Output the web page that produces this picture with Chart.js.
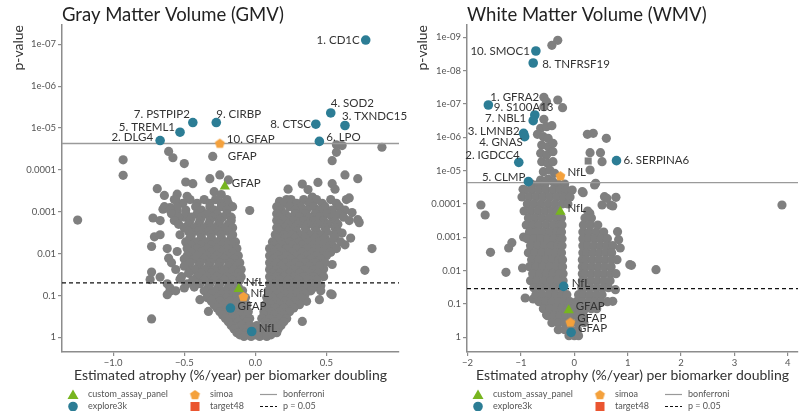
<!DOCTYPE html>
<html>
<head>
<meta charset="utf-8">
<script src="https://cdn.jsdelivr.net/npm/chart.js@4.4.1/dist/chart.umd.min.js"></script>
<style>
  html, body { margin: 0; padding: 0; background: #fff; }
  #wrap { position: relative; width: 804px; height: 411px; overflow: hidden; }
  #gmv { position: absolute; left: 0; top: 0; width: 420px; height: 411px; }
  #wmv { position: absolute; left: 400px; top: 0; width: 404px; height: 411px; }
</style>
</head>
<body>
<div id="wrap">
  <canvas id="gmv" width="420" height="411"></canvas>
  <canvas id="wmv" width="404" height="411"></canvas>
</div>
<script>
// y values are -log10(p)

// ---------- Gray Matter Volume ----------
const gmvXTicks = [-1, -0.5, 0, 0.5];
const gmvXTickLabels = ["−1.0", "−0.5", "0.0", "0.5"];
const gmvYTickLabels = ["1", "0.1", "0.01", "0.001", "0.0001", "1e-05", "1e-06", "1e-07"];

const gmvExplore = [[0.776, 7.10], [0.53, 5.36], [0.63, 5.06], [0.425, 5.09], [0.45, 4.68],
  [-0.44, 5.13], [-0.275, 5.13], [-0.53, 4.90], [-0.67, 4.70], [-0.175, 0.70], [-0.026, 0.14]];
const gmvExploreNames = ["1. CD1C", "4. SOD2", "3. TXNDC15", "8. CTSC", "6. LPO",
  "7. PSTPIP2", "9. CIRBP", "5. TREML1", "2. DLG4", "GFAP", "NfL"];
const gmvSimoa = [[-0.25, 4.64], [-0.084, 0.98]];
const gmvSimoaNames = ["10. GFAP", "NfL"];
const gmvCustom = [[-0.215, 3.60], [-0.117, 1.155]];
const gmvCustomNames = ["GFAP", "NfL"];
const gmvTarget = [[-0.30, 4.32]];
const gmvTargetNames = ["GFAP"];
const gmvBonferroni = 4.63;
const gmvP05 = 1.30;

const gmvGray = [
  [-0.61,4.44],[-0.58,4.29],[-0.93,4.24],[-0.50,4.15],[-0.93,3.87],[-0.49,3.71],[-0.44,3.67],
  [-0.32,3.79],[-0.25,3.88],[-0.19,3.76],[-0.29,3.48],[-0.24,3.41],[-0.69,3.55],[-0.64,3.39],
  [-0.55,3.42],[-0.57,3.29],[-0.48,3.37],[-0.65,3.06],[-0.60,3.10],[-0.55,3.01],[-0.50,2.87],
  [-1.25,2.80],[-0.71,2.40],[-0.04,3.03],[-0.72,2.85],[-0.73,2.17],[-0.61,1.89],[-0.55,2.05],
  [-0.74,1.38],[-0.73,0.44],[-0.60,1.18],[-0.67,1.44],[-0.73,1.56],[-0.46,1.58],[-0.60,1.10],
  [-0.62,1.02],[-0.39,0.90],[-0.33,0.62],[-0.53,1.39],[-0.50,1.18],
  [0.57,4.60],[0.61,4.58],[0.89,4.54],[0.57,4.42],[0.54,4.22],[0.63,3.88],[0.72,3.79],[0.44,3.70],
  [0.33,3.66],[0.37,3.53],[0.40,3.35],[0.23,3.54],[0.54,3.67],[0.56,3.54],[0.17,3.25],[0.22,3.29],
  [0.26,3.13],[0.31,3.05],[0.34,3.29],[0.40,3.33],[0.64,3.29],[0.66,3.33],[0.68,2.98],[0.73,2.74],
  [0.82,2.12],[0.77,1.60],[0.72,2.81],[0.54,1.02],[0.33,0.38],[0.46,1.23],[0.67,2.37],[0.61,2.49],
  [0.63,2.21],[0.54,1.74],[0.48,1.63],[0.53,1.04],[0.45,0.90],[0.36,0.86],
  [-0.56,3.29],[-0.46,3.29],[-0.36,3.29],[-0.28,3.29],[-0.20,3.29],[0.25,3.29],[0.43,3.29],[0.53,3.29],
  [-0.51,3.20],[-0.41,3.20],[-0.32,3.20],[-0.24,3.20],[-0.19,3.20],[0.20,3.20],[0.29,3.20],[0.38,3.20],[0.47,3.20],[0.57,3.20],
  [-0.64,3.12],[-0.55,3.12],[-0.42,3.12],[-0.32,3.12],[-0.24,3.12],[-0.16,3.12],[0.15,3.12],[0.24,3.12],[0.32,3.12],[0.41,3.12],[0.49,3.12],[0.59,3.12],
  [-0.60,3.04],[-0.49,3.04],[-0.38,3.04],[-0.29,3.04],[-0.20,3.04],[0.18,3.04],[0.28,3.04],[0.36,3.04],[0.45,3.04],[0.54,3.04],[0.63,3.04],
  [-0.59,2.95],[-0.49,2.95],[-0.41,2.95],[-0.34,2.95],[-0.27,2.95],[-0.20,2.95],[0.15,2.95],[0.21,2.95],[0.28,2.95],[0.35,2.95],[0.42,2.95],[0.50,2.95],[0.59,2.95],
  [-0.54,2.87],[-0.45,2.87],[-0.38,2.87],[-0.30,2.87],[-0.23,2.87],[-0.17,2.87],[0.17,2.87],[0.24,2.87],[0.31,2.87],[0.38,2.87],[0.45,2.87],[0.54,2.87],[0.62,2.87],
  [-0.67,2.79],[-0.57,2.79],[-0.46,2.79],[-0.39,2.79],[-0.32,2.79],[-0.25,2.79],[-0.17,2.79],[0.15,2.79],[0.20,2.79],[0.27,2.79],[0.34,2.79],[0.41,2.79],[0.48,2.79],[0.56,2.79],[0.66,2.79],
  [-0.54,2.70],[-0.47,2.70],[-0.40,2.70],[-0.33,2.70],[-0.26,2.70],[-0.19,2.70],[0.17,2.70],[0.23,2.70],[0.30,2.70],[0.37,2.70],[0.44,2.70],[0.51,2.70],[0.58,2.70],
  [-0.50,2.62],[-0.43,2.62],[-0.36,2.62],[-0.29,2.62],[-0.22,2.62],[-0.16,2.62],[0.15,2.62],[0.21,2.62],[0.28,2.62],[0.35,2.62],[0.42,2.62],[0.49,2.62],[0.56,2.62],
  [-0.47,2.53],[-0.40,2.53],[-0.33,2.53],[-0.26,2.53],[-0.19,2.53],[0.17,2.53],[0.23,2.53],[0.29,2.53],[0.36,2.53],[0.43,2.53],[0.50,2.53],[0.58,2.53],
  [-0.67,2.45],[-0.53,2.45],[-0.45,2.45],[-0.38,2.45],[-0.31,2.45],[-0.24,2.45],[-0.16,2.45],[0.14,2.45],[0.20,2.45],[0.26,2.45],[0.32,2.45],[0.39,2.45],[0.46,2.45],[0.55,2.45],
  [-0.46,2.37],[-0.38,2.37],[-0.31,2.37],[-0.24,2.37],[-0.17,2.37],[0.15,2.37],[0.21,2.37],[0.28,2.37],[0.35,2.37],[0.42,2.37],[0.49,2.37],[0.56,2.37],
  [-0.49,2.28],[-0.42,2.28],[-0.35,2.28],[-0.28,2.28],[-0.21,2.28],[-0.14,2.28],[0.12,2.28],[0.18,2.28],[0.24,2.28],[0.31,2.28],[0.38,2.28],[0.45,2.28],[0.52,2.28],[0.60,2.28],
  [-0.45,2.20],[-0.38,2.20],[-0.31,2.20],[-0.24,2.20],[-0.17,2.20],[0.13,2.20],[0.19,2.20],[0.26,2.20],[0.33,2.20],[0.40,2.20],[0.47,2.20],[0.54,2.20],
  [-0.62,2.12],[-0.48,2.12],[-0.41,2.12],[-0.34,2.12],[-0.27,2.12],[-0.20,2.12],[-0.13,2.12],[0.10,2.12],[0.16,2.12],[0.22,2.12],[0.29,2.12],[0.36,2.12],[0.43,2.12],[0.50,2.12],[0.57,2.12],
  [-0.45,2.03],[-0.38,2.03],[-0.31,2.03],[-0.24,2.03],[-0.16,2.03],[0.13,2.03],[0.19,2.03],[0.26,2.03],[0.33,2.03],[0.40,2.03],[0.47,2.03],[0.53,2.03],
  [-0.48,1.95],[-0.41,1.95],[-0.34,1.95],[-0.27,1.95],[-0.20,1.95],[-0.12,1.95],[0.10,1.95],[0.16,1.95],[0.22,1.95],[0.29,1.95],[0.36,1.95],[0.43,1.95],[0.50,1.95],
  [-0.50,1.87],[-0.43,1.87],[-0.36,1.87],[-0.29,1.87],[-0.22,1.87],[-0.15,1.87],[0.13,1.87],[0.19,1.87],[0.25,1.87],[0.32,1.87],[0.39,1.87],[0.46,1.87],
  [-0.59,1.78],[-0.46,1.78],[-0.39,1.78],[-0.32,1.78],[-0.25,1.78],[-0.18,1.78],[-0.11,1.78],[0.10,1.78],[0.15,1.78],[0.21,1.78],[0.28,1.78],[0.35,1.78],[0.42,1.78],[0.49,1.78],
  [-0.50,1.70],[-0.40,1.70],[-0.33,1.70],[-0.26,1.70],[-0.19,1.70],[-0.13,1.70],[0.13,1.70],[0.18,1.70],[0.24,1.70],[0.31,1.70],[0.38,1.70],[0.45,1.70],
  [-0.56,1.62],[-0.43,1.62],[-0.36,1.62],[-0.29,1.62],[-0.22,1.62],[-0.15,1.62],[-0.10,1.62],[0.10,1.62],[0.15,1.62],[0.20,1.62],[0.27,1.62],[0.34,1.62],[0.41,1.62],
  [-0.47,1.53],[-0.38,1.53],[-0.31,1.53],[-0.24,1.53],[-0.17,1.53],[-0.12,1.53],[0.12,1.53],[0.17,1.53],[0.24,1.53],[0.31,1.53],[0.38,1.53],[0.44,1.53],
  [-0.52,1.45],[-0.41,1.45],[-0.34,1.45],[-0.27,1.45],[-0.20,1.45],[-0.14,1.45],[-0.10,1.45],[0.10,1.45],[0.15,1.45],[0.20,1.45],[0.27,1.45],[0.34,1.45],[0.41,1.45],[0.48,1.45],
  [-0.44,1.37],[-0.36,1.37],[-0.29,1.37],[-0.22,1.37],[-0.16,1.37],[-0.11,1.37],[0.12,1.37],[0.17,1.37],[0.23,1.37],[0.30,1.37],[0.37,1.37],[0.43,1.37],
  [-0.62,1.28],[-0.48,1.28],[-0.39,1.28],[-0.32,1.28],[-0.25,1.28],[-0.18,1.28],[-0.13,1.28],[0.10,1.28],[0.14,1.28],[0.19,1.28],[0.26,1.28],[0.33,1.28],[0.40,1.28],
  [-0.43,1.20],[-0.33,1.20],[-0.26,1.20],[-0.19,1.20],[-0.12,1.20],[0.11,1.20],[0.16,1.20],[0.22,1.20],[0.29,1.20],[0.36,1.20],[0.42,1.20],
  [-0.56,1.11],[-0.36,1.11],[-0.29,1.11],[-0.22,1.11],[-0.15,1.11],[-0.09,1.11],[0.09,1.11],[0.13,1.11],[0.18,1.11],[0.25,1.11],[0.32,1.11],[0.39,1.11],[0.46,1.11],
  [-0.31,1.03],[-0.24,1.03],[-0.17,1.03],[-0.11,1.03],[0.10,1.03],[0.15,1.03],[0.21,1.03],[0.28,1.03],[0.35,1.03],
  [-0.34,0.95],[-0.27,0.95],[-0.20,0.95],[-0.13,0.95],[-0.07,0.95],[0.08,0.95],[0.12,0.95],[0.18,0.95],[0.25,0.95],[0.32,0.95],
  [-0.31,0.87],[-0.25,0.87],[-0.18,0.87],[-0.12,0.87],[-0.08,0.87],[0.09,0.87],[0.14,0.87],[0.21,0.87],[0.28,0.87],
  [-0.29,0.78],[-0.22,0.78],[-0.15,0.78],[-0.10,0.78],[-0.06,0.78],[0.07,0.78],[0.11,0.78],[0.17,0.78],[0.24,0.78],[0.31,0.78],
  [-0.27,0.70],[-0.20,0.70],[-0.13,0.70],[-0.08,0.70],[0.08,0.70],[0.14,0.70],[0.20,0.70],[0.27,0.70],
  [-0.25,0.61],[-0.18,0.61],[-0.11,0.61],[-0.05,0.61],[0.06,0.61],[0.11,0.61],[0.17,0.61],[0.24,0.61],
  [-0.23,0.53],[-0.16,0.53],[-0.10,0.53],[-0.06,0.53],[0.06,0.53],[0.13,0.53],[0.20,0.53],
  [-0.21,0.45],[-0.14,0.45],[-0.08,0.45],[-0.04,0.45],[0.045,0.45],[0.10,0.45],[0.17,0.45],[0.22,0.45],
  [-0.19,0.37],[-0.12,0.37],[-0.06,0.37],[0.07,0.37],[0.13,0.37],[0.20,0.37],
  [-0.17,0.28],[-0.10,0.28],[-0.04,0.28],[0.01,0.28],[0.07,0.28],[0.13,0.28],[0.18,0.28],
  [-0.15,0.20],[-0.08,0.20],[-0.02,0.20],[0.04,0.20],[0.10,0.20],[0.16,0.20],
  [-0.13,0.11],[-0.07,0.11],[-0.01,0.11],[0.04,0.11],[0.10,0.11],[0.15,0.11],
  [-0.11,0.06],[-0.05,0.06],[0.00,0.06],[0.06,0.06],[0.11,0.06],
  [-0.08,0.02],[-0.03,0.02],[0.03,0.02],[0.08,0.02]
];

// ---------- White Matter Volume ----------
const wmvXTicks = [-2, -1, 0, 1, 2, 3, 4];
const wmvXTickLabels = ["−2", "−1", "0", "1", "2", "3", "4"];
const wmvYTickLabels = ["1", "0.1", "0.01", "0.001", "0.0001", "1e-05", "1e-06", "1e-07", "1e-08", "1e-09"];

const wmvExplore = [[-0.72, 8.59], [-0.77, 8.23], [-1.61, 6.97], [-0.74, 6.67], [-0.77, 6.50],
  [-0.95, 6.12], [-0.93, 6.02], [-1.04, 5.25], [-0.86, 4.67], [0.79, 5.30], [-0.20, 1.53], [-0.06, 0.15]];
const wmvExploreNames = ["10. SMOC1", "8. TNFRSF19", "1. GFRA2", "9. S100A13", "7. NBL1",
  "3. LMNB2", "4. GNAS", "2. IGDCC4", "5. CLMP", "6. SERPINA6", "NfL", "GFAP"];
const wmvSimoa = [[-0.26, 4.85], [-0.074, 0.46]];
const wmvSimoaNames = ["NfL", "GFAP"];
const wmvCustom = [[-0.26, 3.77], [-0.105, 0.81]];
const wmvCustomNames = ["NfL", "GFAP"];
const wmvTarget = [[0.26, 5.29]];
const wmvTargetNames = [""];
const wmvBonferroni = 4.64;
const wmvP05 = 1.46;

const wmvGray = [
  [-0.31,8.91],[-0.42,8.76],[-0.57,7.20],[-0.52,7.07],[-0.31,7.12],[-0.22,6.89],[-0.57,6.92],
  [-0.57,6.54],[-0.63,6.27],[-0.52,6.32],[-0.42,6.35],[-0.69,6.09],[-0.58,6.02],[-0.49,5.97],
  [-0.61,5.77],[-0.49,5.72],[-0.40,5.82],[-0.63,5.52],[-0.52,5.47],[-0.40,5.57],[-0.61,5.27],
  [-0.50,5.22],[-0.40,5.27],[-0.58,4.97],[-0.46,5.02],[-0.37,4.92],[-0.63,4.72],[-0.49,4.75],[-0.40,4.67],
  [0.245,6.09],[0.355,6.12],[0.60,5.97],[0.295,5.54],[0.49,5.54],[0.52,5.27],[0.295,5.02],[0.40,4.62],
  [0.166,4.34],[0.38,4.57],[0.565,4.22],[0.78,4.20],[-0.96,4.44],
  [-1.75,3.97],[-1.67,3.67],[-1.57,2.55],[-1.28,1.95],[-1.23,2.68],[-1.17,2.84],[-0.95,3.01],
  [-0.89,2.98],[-0.97,2.08],[-0.92,1.18],[-0.77,1.15],[-0.52,0.68],
  [0.52,3.97],[0.68,3.97],[0.61,4.17],[0.15,4.37],[0.81,3.17],[0.83,2.93],[0.86,2.68],[1.04,2.18],
  [0.77,1.43],[3.89,3.97],[1.53,2.03],[1.07,2.16],[0.72,1.08],[0.72,3.94],[0.29,3.72],
  [-0.80,4.60],[-0.67,4.60],[-0.55,4.60],[-0.30,4.60],[-0.18,4.60],
  [-0.92,4.42],[-0.79,4.42],[-0.66,4.42],[-0.53,4.42],[-0.40,4.42],[-0.27,4.42],[-0.15,4.42],[-0.04,4.42],
  [-0.98,4.21],[-0.85,4.21],[-0.72,4.21],[-0.59,4.21],[-0.46,4.21],[-0.33,4.21],[-0.20,4.21],[-0.08,4.21],
  [-0.88,4.00],[-0.75,4.00],[-0.62,4.00],[-0.49,4.00],[-0.36,4.00],[-0.23,4.00],[-0.12,4.00],
  [-0.94,3.79],[-0.81,3.79],[-0.68,3.79],[-0.55,3.79],[-0.42,3.79],[-0.32,3.79],
  [-0.86,3.58],[-0.73,3.58],[-0.60,3.58],[-0.47,3.58],[-0.34,3.58],[-0.24,3.58],
  [-0.90,3.37],[-0.78,3.37],[-0.66,3.37],[-0.53,3.37],[-0.40,3.37],[-0.28,3.37],[-0.23,3.37],
  [-0.84,3.16],[-0.71,3.16],[-0.58,3.16],[-0.45,3.16],[-0.33,3.16],[-0.24,3.16],
  [-0.88,2.96],[-0.76,2.96],[-0.63,2.96],[-0.50,2.96],[-0.38,2.96],[-0.26,2.96],[-0.23,2.96],
  [-0.82,2.75],[-0.69,2.75],[-0.56,2.75],[-0.43,2.75],[-0.31,2.75],[-0.23,2.75],
  [-0.86,2.54],[-0.74,2.54],[-0.61,2.54],[-0.48,2.54],[-0.36,2.54],[-0.24,2.54],
  [-0.80,2.33],[-0.67,2.33],[-0.54,2.33],[-0.41,2.33],[-0.29,2.33],[-0.22,2.33],
  [-0.84,2.12],[-0.72,2.12],[-0.59,2.12],[-0.46,2.12],[-0.34,2.12],[-0.22,2.12],
  [-0.78,1.91],[-0.65,1.91],[-0.52,1.91],[-0.40,1.91],[-0.28,1.91],[-0.21,1.91],
  [-0.82,1.70],[-0.70,1.70],[-0.57,1.70],[-0.44,1.70],[-0.32,1.70],[-0.21,1.70],
  [-0.76,1.49],[-0.63,1.49],[-0.50,1.49],[-0.38,1.49],[-0.26,1.49],
  [-0.72,1.28],[-0.60,1.28],[-0.47,1.28],[-0.35,1.28],[-0.23,1.28],[-0.14,1.28],
  [-0.66,1.07],[-0.54,1.07],[-0.42,1.07],[-0.30,1.07],[-0.19,1.07],[-0.08,1.07],
  [-0.58,0.86],[-0.46,0.86],[-0.34,0.86],[-0.23,0.86],[-0.12,0.86],[-0.02,0.86],
  [-0.50,0.65],[-0.38,0.65],[-0.27,0.65],[-0.16,0.65],[-0.05,0.65],[0.06,0.65],[0.17,0.65],
  [-0.42,0.44],[-0.30,0.44],[-0.18,0.44],[-0.06,0.44],[0.06,0.44],[0.18,0.44],
  [-0.30,0.23],[-0.18,0.23],[-0.06,0.23],[0.06,0.23],
  [-0.10,0.05],[0.00,0.05],[0.08,0.05],
  [0.25,3.79],[0.20,3.58],[0.32,3.58],[0.17,3.37],[0.30,3.37],[0.44,3.37],
  [0.16,3.16],[0.28,3.16],[0.41,3.16],[0.55,3.16],
  [0.16,2.96],[0.26,2.96],[0.38,2.96],[0.50,2.96],[0.62,2.96],
  [0.16,2.75],[0.25,2.75],[0.37,2.75],[0.49,2.75],[0.61,2.75],[0.72,2.75],
  [0.16,2.54],[0.23,2.54],[0.35,2.54],[0.47,2.54],[0.59,2.54],[0.70,2.54],
  [0.15,2.33],[0.22,2.33],[0.34,2.33],[0.46,2.33],[0.58,2.33],[0.70,2.33],[0.80,2.33],
  [0.15,2.12],[0.21,2.12],[0.33,2.12],[0.45,2.12],[0.57,2.12],[0.69,2.12],
  [0.15,1.91],[0.20,1.91],[0.32,1.91],[0.44,1.91],[0.56,1.91],[0.68,1.91],[0.78,1.91],
  [0.15,1.70],[0.19,1.70],[0.31,1.70],[0.43,1.70],[0.55,1.70],[0.67,1.70],
  [0.14,1.49],[0.18,1.49],[0.30,1.49],[0.42,1.49],[0.54,1.49],[0.64,1.49],
  [0.08,1.28],[0.17,1.28],[0.29,1.28],[0.41,1.28],[0.52,1.28],
  [0.04,1.07],[0.15,1.07],[0.27,1.07],[0.38,1.07],[0.50,1.07],[0.62,1.07],
  [0.10,0.86],[0.21,0.86],[0.32,0.86],[0.42,0.86]
];

// ---------- drawing ----------
const FONT = "Lato, 'Open Sans', sans-serif";
const GRAY = "#7f7f7f";
const TEAL = "#2c7d95";
const GREEN = "#77b51f";
const ORANGE = "#f4a13c";
const RED = "#ea5530";
const AXIS = "#8c8c8c";

function pentagon(color, r) {
  const c = document.createElement("canvas");
  const s = Math.ceil(r * 2 + 2);
  c.width = s; c.height = s;
  const g = c.getContext("2d");
  g.fillStyle = color;
  g.beginPath();
  for (let i = 0; i < 5; i++) {
    const a = -Math.PI / 2 + i * 2 * Math.PI / 5;
    const px = s / 2 + r * Math.cos(a), py = s / 2 + r * Math.sin(a) + 0.6;
    i ? g.lineTo(px, py) : g.moveTo(px, py);
  }
  g.closePath();
  g.fill();
  return c;
}
const penta = pentagon(ORANGE, 5.2);

const toPts = arr => arr.map(([x, y]) => ({ x, y }));

// tag layout: [dx px, dy px, align]
const gmvTags = {
  explore: [[-6,0,"right"],[0,-10,"left"],[-3,-9,"left"],[-5,0,"right"],[7,-4,"left"],[-3,-8,"right"],
            [0,-8,"left"],[-5,-5,"right"],[-7,-3,"right"],[7,-2,"left"],[7,-3,"left"]],
  simoa: [[7,-4,"left"],[7,-3,"left"]],
  custom: [[7,-3,"left"],[7,-7,"left"]],
  target: [[15,0,"left"]]
};
const wmvTags = {
  explore: [[-6,0,"right"],[9,1,"left"],[2,-8,"left"],[-41,-8,"left"],[-7,-2,"right"],[-4,-2,"right"],
            [-2,6,"right"],[1,-7,"right"],[-3,-4,"right"],[7,0,"left"],[8,-3,"left"],[7,-4,"left"]],
  simoa: [[7,-3,"left"],[7,-4,"left"]],
  custom: [[7,-3,"left"],[7,-4,"left"]],
  target: [[0,0,"left"]]
};

function volcano(id, p) {
  const labelPlugin = {
    id: "labels",
    afterDatasetsDraw(chart) {
      const ctx = chart.ctx, xs = chart.scales.x, ys = chart.scales.y;
      ctx.save();
      ctx.font = "11.5px " + FONT;
      ctx.fillStyle = "#333";
      ctx.textBaseline = "middle";
      for (const key of ["explore", "simoa", "custom", "target"]) {
        p[key].forEach((pt, i) => {
          const name = p[key + "Names"][i];
          if (!name) return;
          const [dx, dy, align] = p.tags[key][i];
          ctx.textAlign = align;
          ctx.fillText(name, xs.getPixelForValue(pt[0]) + dx, ys.getPixelForValue(pt[1]) + dy);
        });
      }
      ctx.restore();
    },
    afterDraw(chart) {
      const ctx = chart.ctx, L = chart.chartArea.left;
      ctx.save();
      // title
      ctx.font = "18.5px " + FONT;
      ctx.fillStyle = "#222";
      ctx.textBaseline = "middle";
      ctx.textAlign = "left";
      ctx.fillText(p.title, L, 15);
      // legend
      const r1 = 394.5, r2 = 406.5;
      ctx.font = "9px " + FONT;
      ctx.fillStyle = "#555";
      ctx.fillText("custom_assay_panel", L + 26, r1);
      ctx.fillText("explore3k", L + 26, r2);
      ctx.fillText("simoa", L + 148, r1);
      ctx.fillText("target48", L + 148, r2);
      ctx.fillText("bonferroni", L + 221, r1);
      ctx.fillText("p = 0.05", L + 221, r2);
      ctx.fillStyle = GREEN;
      ctx.beginPath();
      ctx.moveTo(L + 11, r1 - 5); ctx.lineTo(L + 16.5, r1 + 4.5); ctx.lineTo(L + 5.5, r1 + 4.5);
      ctx.closePath(); ctx.fill();
      ctx.fillStyle = TEAL;
      ctx.beginPath(); ctx.arc(L + 11, r2, 4.8, 0, Math.PI * 2); ctx.fill();
      ctx.drawImage(penta, L + 133 - penta.width / 2, r1 - penta.height / 2);
      ctx.fillStyle = RED;
      ctx.fillRect(L + 128.5, r2 - 4.5, 9, 9);
      ctx.lineWidth = 1.2;
      ctx.strokeStyle = "#999";
      ctx.beginPath(); ctx.moveTo(L + 198, r1); ctx.lineTo(L + 215, r1); ctx.stroke();
      ctx.strokeStyle = "#111";
      ctx.setLineDash([3, 2]);
      ctx.beginPath(); ctx.moveTo(L + 198, r2); ctx.lineTo(L + 215, r2); ctx.stroke();
      ctx.restore();
    }
  };

  new Chart(document.getElementById(id), {
    type: "scatter",
    data: {
      datasets: [
        { data: toPts(p.custom), pointStyle: "triangle", pointRadius: 6, backgroundColor: GREEN, borderWidth: 0, order: 1 },
        { data: toPts(p.simoa), pointStyle: penta, pointRadius: 5, order: 1 },
        { data: toPts(p.explore), pointRadius: 4.8, backgroundColor: TEAL, borderWidth: 0, order: 1 },
        { data: [{ x: p.xMin, y: p.bonferroni }, { x: p.xMax, y: p.bonferroni }], showLine: true,
          borderColor: "#9a9a9a", borderWidth: 1.3, pointRadius: 0, order: 2 },
        { data: [{ x: p.xMin, y: p.p05 }, { x: p.xMax, y: p.p05 }], showLine: true,
          borderColor: "#111", borderWidth: 1.3, borderDash: [4, 3], pointRadius: 0, order: 2 },
        { data: toPts(p.target), pointStyle: p.targetStyle, pointRadius: p.targetStyle === "rect" ? 5 : 4.6,
          backgroundColor: GRAY, borderWidth: 0, order: 3 },
        { data: toPts(p.gray), pointRadius: 4.6, backgroundColor: GRAY, borderWidth: 0, order: 3 }
      ]
    },
    options: {
      responsive: false,
      animation: false,
      events: [],
      layout: { padding: p.padding },
      plugins: { legend: { display: false }, tooltip: { enabled: false } },
      scales: {
        x: {
          type: "linear", min: p.xMin, max: p.xMax,
          afterBuildTicks: s => { s.ticks = p.xTicks.map(v => ({ value: v })); },
          afterFit: s => { s.height = 32; },
          ticks: {
            callback: v => p.xTickLabels[p.xTicks.indexOf(v)],
            font: { family: FONT, size: 9.5 }, color: "#555", padding: 1, maxRotation: 0
          },
          grid: { drawOnChartArea: false, tickLength: 4, color: AXIS, lineWidth: 1.2 },
          border: { color: AXIS, width: 1.5 },
          title: { display: true, text: "Estimated atrophy (%/year) per biomarker doubling",
                   font: { family: FONT, size: 14 }, color: "#333", padding: 0 }
        },
        y: {
          type: "linear", min: p.yMin, max: p.yMax,
          afterBuildTicks: s => { s.ticks = p.yTickLabels.map((_, i) => ({ value: i })); },
          afterFit: s => { s.width = p.yWidth; },
          ticks: {
            callback: v => p.yTickLabels[Math.round(v)],
            font: { family: FONT, size: 9.5 }, color: "#555", padding: 2
          },
          grid: { drawOnChartArea: false, tickLength: 4, color: AXIS, lineWidth: 1.2 },
          border: { color: AXIS, width: 1.5 },
          title: { display: true, text: "p-value", align: "end",
                   font: { family: FONT, size: 14 }, color: "#333", padding: 0 }
        }
      }
    },
    plugins: [labelPlugin]
  });
}

volcano("gmv", {
  title: "Gray Matter Volume (GMV)",
  gray: gmvGray, explore: gmvExplore, exploreNames: gmvExploreNames,
  simoa: gmvSimoa, simoaNames: gmvSimoaNames, custom: gmvCustom, customNames: gmvCustomNames,
  target: gmvTarget, targetNames: gmvTargetNames, targetStyle: "circle", tags: gmvTags,
  bonferroni: gmvBonferroni, p05: gmvP05,
  xTicks: gmvXTicks, xTickLabels: gmvXTickLabels, yTickLabels: gmvYTickLabels,
  xMin: -1.36, xMax: 1.01, yMin: -0.35, yMax: 7.46,
  padding: { left: 10, top: 25, right: 21, bottom: 27 }, yWidth: 52
});

volcano("wmv", {
  title: "White Matter Volume (WMV)",
  gray: wmvGray, explore: wmvExplore, exploreNames: wmvExploreNames,
  simoa: wmvSimoa, simoaNames: wmvSimoaNames, custom: wmvCustom, customNames: wmvCustomNames,
  target: wmvTarget, targetNames: wmvTargetNames, targetStyle: "rect", tags: wmvTags,
  bonferroni: wmvBonferroni, p05: wmvP05,
  xTicks: wmvXTicks, xTickLabels: wmvXTickLabels, yTickLabels: wmvYTickLabels,
  xMin: -2.01, xMax: 4.19, yMin: -0.44, yMax: 9.37,
  padding: { left: 14, top: 25, right: 1, bottom: 27 }, yWidth: 53
});
</script>
</body>
</html>
